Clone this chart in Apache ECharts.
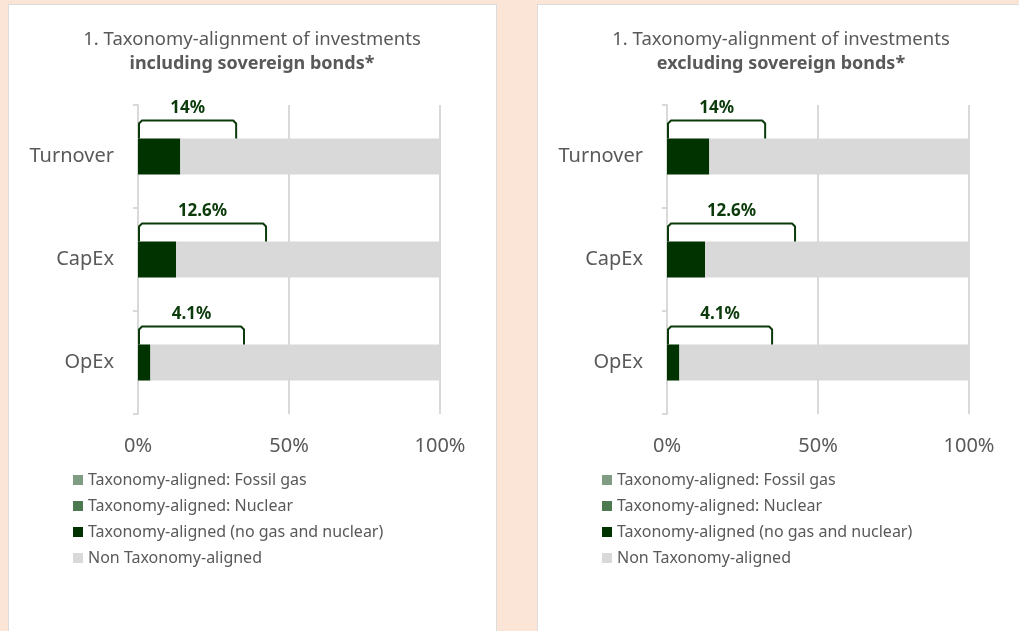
<!DOCTYPE html>
<html>
<head>
<meta charset="utf-8">
<script src="https://cdn.jsdelivr.net/npm/echarts@6/dist/echarts.min.js"></script>
<style>
  html, body { margin: 0; padding: 0; width: 1019px; height: 631px; overflow: hidden; background: #fbe5d6; }
  .panel { position: absolute; top: 4px; background: #ffffff; border: 1px solid #dcdcdc; overflow: hidden; }
  #p1 { left: 8px; width: 487px; height: 640px; }
  #p2 { left: 537px; width: 490px; height: 640px; }
  .chart { position: absolute; left: 0; top: 0; width: 486px; height: 626px; }
</style>
</head>
<body>
<div class="panel" id="p1"><div class="chart" id="c1"></div></div>
<div class="panel" id="p2"><div class="chart" id="c2"></div></div>
<script>
// ---- Data ----
const categories = ['Turnover', 'CapEx', 'OpEx'];
const xTicks = [0, 50, 100];
const seriesNames = [
  'Taxonomy-aligned: Fossil gas',
  'Taxonomy-aligned: Nuclear',
  'Taxonomy-aligned (no gas and nuclear)',
  'Non Taxonomy-aligned'
];
// Chart 1: including sovereign bonds
const fossilGasIncl = [0, 0, 0];
const nuclearIncl = [0, 0, 0];
const alignedIncl = [14, 12.6, 4.1];
const nonAlignedIncl = [86, 87.4, 95.9];
const bracketLabelsIncl = ['14%', '12.6%', '4.1%'];
const bracketEndIncl = [32.5, 42.4, 35.1];
// Chart 2: excluding sovereign bonds
const fossilGasExcl = [0, 0, 0];
const nuclearExcl = [0, 0, 0];
const alignedExcl = [14, 12.6, 4.1];
const nonAlignedExcl = [86, 87.4, 95.9];
const bracketLabelsExcl = ['14%', '12.6%', '4.1%'];
const bracketEndExcl = [32.5, 42.4, 34.8];

const colors = ['#809c82', '#4e7a51', '#013300', '#d9d9d9'];
const textColor = '#595959';
const FONT = 'Noto Sans';

function buildOption(subtitle, fossil, nuclear, aligned, nonAligned, bLabels, bEnds) {
  const barPct = 0.35;
  const stacked = [fossil, nuclear, aligned, nonAligned].map((arr, k) => ({
    name: seriesNames[k],
    type: 'bar',
    stack: 'total',
    barWidth: '35%',
    itemStyle: { color: colors[k] },
    emphasis: { disabled: true },
    data: arr
  }));
  const bracket = {
    type: 'custom',
    name: 'bracket',
    clip: false,
    z: 10,
    encode: { x: 1, y: 0 },
    data: categories.map((c, i) => [i, bEnds[i]]),
    renderItem: function (params, api) {
      const idx = api.value(0);
      const p0 = api.coord([0, idx]);
      const p1 = api.coord([api.value(1), idx]);
      const band = api.size([0, 1])[1];
      const barTop = p0[1] - band * barPct / 2;
      const top = barTop - 18;
      const x0 = p0[0] + 1, x1 = p1[0];
      const r = 3;
      return {
        type: 'group',
        children: [
          {
            type: 'polyline',
            shape: { points: [[x0, barTop], [x0, top + r], [x0 + r, top], [x1 - r, top], [x1, top + r], [x1, barTop]] },
            style: { stroke: '#0b3a0b', lineWidth: 2, fill: null, lineJoin: 'round' }
          },
          {
            type: 'text',
            style: {
              text: bLabels[params.dataIndex],
              x: (x0 + x1) / 2,
              y: top - 12,
              textAlign: 'center',
              textVerticalAlign: 'middle',
              fill: '#0b3a0b',
              font: 'bold 17px "' + FONT + '"'
            }
          }
        ]
      };
    }
  };
  return {
    animation: false,
    textStyle: { fontFamily: FONT },
    title: {
      left: 'center',
      top: 18,
      text: '1. Taxonomy-alignment of investments\n{b|' + subtitle + '}',
      textStyle: {
        color: textColor,
        fontFamily: FONT,
        fontWeight: 'normal',
        fontSize: 18.5,
        lineHeight: 24,
        rich: { b: { fontWeight: 'bold', fontSize: 18, color: textColor, fontFamily: FONT, lineHeight: 24 } }
      }
    },
    legend: {
      orient: 'vertical',
      left: 64,
      top: 467,
      padding: 0,
      itemWidth: 10,
      itemHeight: 10,
      itemGap: 10,
      icon: 'rect',
      data: seriesNames,
      selectedMode: false,
      textStyle: { color: textColor, fontSize: 16, fontFamily: FONT, lineHeight: 16 }
    },
    grid: { left: 129, top: 100, width: 302, height: 309, containLabel: false },
    xAxis: {
      type: 'value',
      min: xTicks[0],
      max: xTicks[xTicks.length - 1],
      interval: xTicks[1] - xTicks[0],
      axisLine: { show: false },
      axisTick: { show: false },
      axisLabel: { formatter: '{value}%', color: textColor, fontSize: 20, margin: 22, fontFamily: FONT },
      splitLine: { show: true, lineStyle: { color: '#d9d9d9', width: 2 } }
    },
    yAxis: {
      type: 'category',
      data: categories,
      inverse: true,
      axisLine: { show: true, lineStyle: { color: '#d9d9d9', width: 2 } },
      axisTick: { show: true, length: 5, lineStyle: { color: '#d9d9d9', width: 2 } },
      axisLabel: { color: textColor, fontSize: 20, margin: 24, fontFamily: FONT }
    },
    series: stacked.concat([bracket])
  };
}

const c1 = echarts.init(document.getElementById('c1'), null, { renderer: 'canvas' });
c1.setOption(buildOption('including sovereign bonds*', fossilGasIncl, nuclearIncl, alignedIncl, nonAlignedIncl, bracketLabelsIncl, bracketEndIncl));
const c2 = echarts.init(document.getElementById('c2'), null, { renderer: 'canvas' });
c2.setOption(buildOption('excluding sovereign bonds*', fossilGasExcl, nuclearExcl, alignedExcl, nonAlignedExcl, bracketLabelsExcl, bracketEndExcl));
</script>
</body>
</html>
